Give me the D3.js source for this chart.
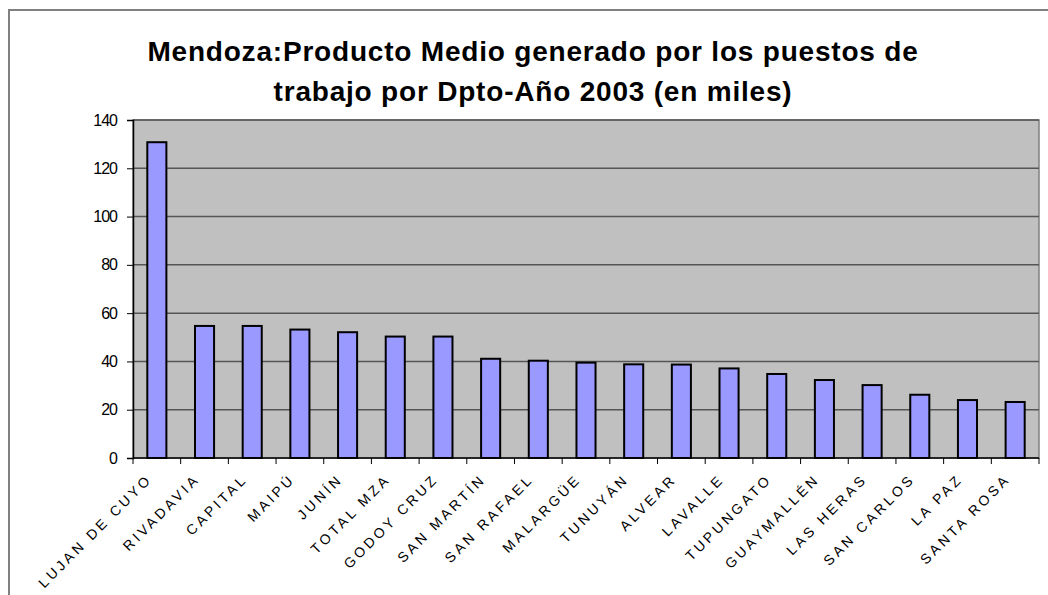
<!DOCTYPE html>
<html>
<head>
<meta charset="utf-8">
<script src="https://cdn.jsdelivr.net/npm/d3@7"></script>
<style>
  body{margin:0;background:#fff;}
  svg{display:block;font-family:Arial,"Liberation Sans",sans-serif;}
</style>
</head>
<body>
<div id="chart"></div>
<script>
// data
const departamentos = ["LUJAN DE CUYO","RIVADAVIA","CAPITAL","MAIPÚ","JUNÍN","TOTAL MZA","GODOY CRUZ",
  "SAN MARTÍN","SAN RAFAEL","MALARGÜE","TUNUYÁN","ALVEAR","LAVALLE","TUPUNGATO","GUAYMALLÉN",
  "LAS HERAS","SAN CARLOS","LA PAZ","SANTA ROSA"];
const valores = [130.8,54.7,54.7,53.2,52.1,50.3,50.3,41.1,40.3,39.5,38.8,38.7,37.1,34.8,32.3,30.2,26.2,24.0,23.2];
const yTicks = [0,20,40,60,80,100,120,140];
const titulo = ["Mendoza:Producto Medio generado por los puestos de","trabajo por Dpto-Año 2003 (en miles)"];

const w=1048, h=595;
const m={top:120,left:133,right:9,bottom:137};  //plot area 133..1039 x 120..458

const svg=d3.select("#chart").append("svg")
  .attr("width",w).attr("height",h);

//outer chart frame
svg.append("rect")
  .attr("x",9).attr("y",10)
  .attr("width",w+20).attr("height",h+20)
  .attr("fill","none").attr("stroke","#808080").attr("stroke-width",2);

//title
svg.append("g").selectAll("text")
  .data(titulo).enter().append("text")
  .attr("x",533).attr("y",(d,i)=>61+i*40)
  .attr("text-anchor","middle")
  .attr("font-size","28px").attr("font-weight","bold")
  .attr("letter-spacing","0.8px")
  .text(d=>d);

const x=d3.scaleBand().domain(departamentos)
  .range([m.left,w-m.right]).paddingInner(0.6).paddingOuter(0.3);
const y=d3.scaleLinear().domain([0,140]).range([h-m.bottom,m.top]);

//plot background
svg.append("rect")
  .attr("x",m.left).attr("y",m.top)
  .attr("width",w-m.right-m.left).attr("height",h-m.bottom-m.top)
  .attr("fill","#c0c0c0").attr("stroke","#808080").attr("stroke-width",1.5);

//gridlines
svg.append("g").selectAll("line")
  .data(yTicks.filter(d=>d>0)).enter().append("line")
  .attr("x1",m.left).attr("x2",w-m.right)
  .attr("y1",d=>y(d)).attr("y2",d=>y(d))
  .attr("stroke","#555").attr("stroke-width",1.5);

//bars
svg.append("g").selectAll("rect")
  .data(valores).enter().append("rect")
  .attr("x",(d,i)=>x(departamentos[i]))
  .attr("y",d=>y(d))
  .attr("width",x.bandwidth())
  .attr("height",d=>y(0)-y(d))
  .attr("fill","#9999ff").attr("stroke","#000").attr("stroke-width",2);

//y axis
const yAxis=svg.append("g")
  .attr("transform","translate("+m.left+",0)")
  .call(d3.axisLeft(y).tickValues(yTicks).tickSize(6).tickPadding(10));
yAxis.select(".domain").attr("stroke","#000").attr("stroke-width",1.5);
yAxis.selectAll("text").attr("font-size","16px").attr("font-family","Arial,'Liberation Sans',sans-serif")
  .attr("letter-spacing","-1px").attr("fill","#000");

//x axis, ticks at band edges
const edges=d3.range(departamentos.length+1).map(i=>m.left+i*(w-m.right-m.left)/departamentos.length);
const xAxis=svg.append("g");
xAxis.append("line")
  .attr("x1",m.left).attr("x2",w-m.right)
  .attr("y1",y(0)).attr("y2",y(0))
  .attr("stroke","#000").attr("stroke-width",1.5);
xAxis.selectAll(".tick").data(edges).enter().append("line")
  .attr("x1",d=>d).attr("x2",d=>d)
  .attr("y1",y(0)).attr("y2",y(0)+6)
  .attr("stroke","#000");

//rotated labels
xAxis.selectAll("text").data(departamentos).enter().append("text")
  .attr("transform",d=>"translate("+(x(d)+x.bandwidth()/2-4)+","+(y(0)+22)+") rotate(-45)")
  .attr("text-anchor","end")
  .attr("font-size","14px")
  .attr("letter-spacing","3.2px")
  .attr("fill","#000")
  .text(d=>d);
</script>
</body>
</html>
